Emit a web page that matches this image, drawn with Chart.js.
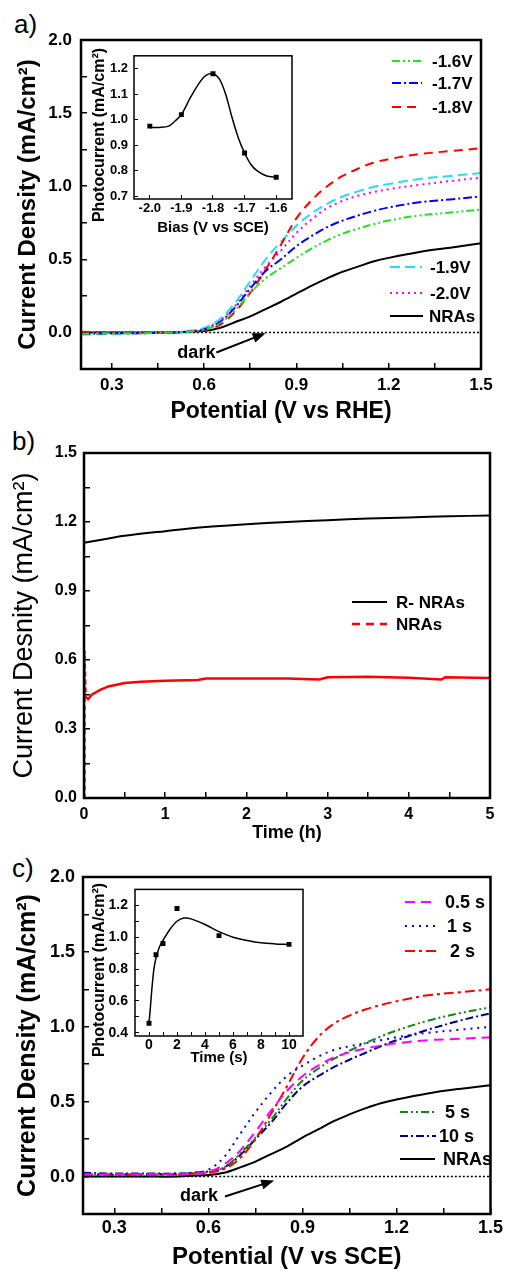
<!DOCTYPE html>
<html>
<head>
<meta charset="utf-8">
<script src="https://cdn.jsdelivr.net/npm/chart.js@4.4.1/dist/chart.umd.min.js"></script>
<style>
  body { margin: 0; background: #fff; width: 512px; height: 1272px; position: relative; overflow: hidden; font-family: "Liberation Sans", Arial, sans-serif; }
  canvas { position: absolute; }
  .tag { position: absolute; font-size: 26px; line-height: 26px; color: #000; }
</style>
</head>
<body>
<div class="tag" style="left:14px;top:11px">a)</div>
<div class="tag" style="left:12px;top:428px">b)</div>
<div class="tag" style="left:12px;top:855px">c)</div>
<canvas id="chartA" width="512" height="425" style="left:0;top:0"></canvas>
<canvas id="insetA" width="230" height="205" style="left:80px;top:38px"></canvas>
<canvas id="chartB" width="512" height="425" style="left:0;top:425px"></canvas>
<canvas id="chartC" width="512" height="422" style="left:0;top:850px"></canvas>
<canvas id="insetC" width="235" height="200" style="left:80px;top:870px"></canvas>
<script>
// ---- panel a: LSV curves, different reduction bias ----
const potA = [0.2, 0.3, 0.4, 0.5, 0.55, 0.6, 0.65, 0.7, 0.75, 0.8, 0.85, 0.9, 0.95, 1.0, 1.05, 1.1, 1.15, 1.2, 1.3, 1.4, 1.5];
const a16 = [-0.01, -0.005, -0.005, 0, 0.005, 0.02, 0.06, 0.15, 0.27, 0.37, 0.44, 0.51, 0.575, 0.63, 0.675, 0.71, 0.74, 0.765, 0.80, 0.82, 0.84];
const a17 = [-0.01, -0.005, -0.005, 0, 0.005, 0.02, 0.07, 0.17, 0.30, 0.42, 0.50, 0.59, 0.66, 0.72, 0.765, 0.80, 0.83, 0.855, 0.89, 0.91, 0.93];
const a18 = [0.005, 0, 0, 0, 0.005, 0.015, 0.05, 0.14, 0.27, 0.43, 0.60, 0.78, 0.905, 1.0, 1.07, 1.12, 1.16, 1.185, 1.22, 1.24, 1.26];
const a19 = [-0.015, -0.01, -0.005, 0, 0.01, 0.03, 0.09, 0.20, 0.35, 0.50, 0.62, 0.73, 0.815, 0.88, 0.93, 0.965, 0.995, 1.015, 1.05, 1.07, 1.09];
const a20 = [-0.01, -0.005, -0.005, 0, 0.01, 0.025, 0.08, 0.18, 0.32, 0.45, 0.56, 0.68, 0.775, 0.85, 0.90, 0.935, 0.96, 0.98, 1.01, 1.035, 1.06];
const aNRA = [0, 0, 0, 0, 0.005, 0.01, 0.03, 0.07, 0.11, 0.16, 0.21, 0.265, 0.32, 0.37, 0.415, 0.45, 0.485, 0.51, 0.55, 0.58, 0.61];
const darkX = [0.2, 1.5];
const darkY = [0, 0];

// inset a: photocurrent vs bias
const biasPts = [-2.0, -1.9, -1.8, -1.7, -1.6];
const photoPts = [0.975, 1.02, 1.18, 0.87, 0.775];
const biasFit = [-2.0, -1.97, -1.94, -1.92, -1.9, -1.87, -1.84, -1.82, -1.8, -1.78, -1.76, -1.74, -1.72, -1.7, -1.68, -1.66, -1.63, -1.6];
const photoFit = [0.97, 0.97, 0.975, 0.995, 1.02, 1.09, 1.15, 1.175, 1.18, 1.16, 1.10, 1.01, 0.93, 0.87, 0.825, 0.80, 0.78, 0.775];

// ---- panel b: stability ----
const timeR = [0, 0.25, 0.5, 1, 1.5, 2, 2.5, 3, 3.5, 4, 4.5, 5];
const densR = [1.11, 1.125, 1.14, 1.16, 1.178, 1.19, 1.2, 1.208, 1.215, 1.22, 1.225, 1.228];
const timeN = [0, 0.005, 0.02, 0.05, 0.1, 0.2, 0.3, 0.5, 0.7, 1.0, 1.4, 1.5, 2.0, 2.5, 2.9, 3.0, 3.5, 4.0, 4.4, 4.45, 5.0];
const densN = [0, 0.64, 0.44, 0.43, 0.45, 0.47, 0.485, 0.5, 0.505, 0.51, 0.513, 0.52, 0.52, 0.52, 0.515, 0.525, 0.527, 0.523, 0.515, 0.525, 0.522];

// ---- panel c: LSV curves, different reduction time ----
const potC = [0.2, 0.3, 0.4, 0.5, 0.55, 0.6, 0.65, 0.7, 0.75, 0.8, 0.85, 0.9, 0.95, 1.0, 1.05, 1.1, 1.15, 1.2, 1.3, 1.4, 1.5];
const c05 = [0.015, 0.015, 0.015, 0.015, 0.02, 0.03, 0.08, 0.17, 0.30, 0.44, 0.57, 0.67, 0.74, 0.795, 0.83, 0.855, 0.875, 0.89, 0.91, 0.92, 0.93];
const c1 = [0.015, 0.015, 0.015, 0.02, 0.025, 0.045, 0.13, 0.28, 0.43, 0.56, 0.67, 0.74, 0.80, 0.845, 0.87, 0.89, 0.91, 0.93, 0.96, 0.98, 1.00];
const c2 = [0.01, 0.01, 0.01, 0.015, 0.02, 0.025, 0.05, 0.12, 0.25, 0.42, 0.60, 0.79, 0.93, 1.02, 1.075, 1.115, 1.145, 1.17, 1.21, 1.23, 1.25];
const c5 = [0.015, 0.015, 0.015, 0.015, 0.02, 0.03, 0.06, 0.15, 0.26, 0.38, 0.52, 0.64, 0.72, 0.785, 0.84, 0.89, 0.935, 0.975, 1.04, 1.09, 1.13];
const c10 = [0.025, 0.02, 0.02, 0.02, 0.025, 0.035, 0.06, 0.14, 0.25, 0.36, 0.49, 0.60, 0.67, 0.73, 0.78, 0.825, 0.87, 0.91, 0.98, 1.04, 1.09];
const cNRA = [0, 0, 0, 0, 0.005, 0.01, 0.025, 0.06, 0.10, 0.15, 0.20, 0.26, 0.315, 0.37, 0.415, 0.455, 0.49, 0.515, 0.555, 0.585, 0.61];

// inset c: photocurrent vs time
const timePts = [0, 0.5, 1, 2, 5, 10];
const photoCPts = [0.46, 0.89, 0.96, 1.18, 1.01, 0.955];
const timeFit = [0, 0.1, 0.2, 0.35, 0.5, 0.75, 1, 1.5, 2, 2.5, 3, 4, 5, 6, 7, 8, 9, 10];
const photoCFit = [0.46, 0.56, 0.67, 0.80, 0.87, 0.94, 0.98, 1.05, 1.10, 1.12, 1.115, 1.08, 1.035, 1.0, 0.98, 0.965, 0.958, 0.955];

// tick positions and which ones get a label
const potTicks = [0.3, 0.45, 0.6, 0.75, 0.9, 1.05, 1.2, 1.35, 1.5];
const potLabels = [0.3, 0.6, 0.9, 1.2, 1.5];
const jTicks = [0, 0.25, 0.5, 0.75, 1.0, 1.25, 1.5, 1.75, 2.0];
const jLabels = [0, 0.5, 1.0, 1.5, 2.0];
const hourTicks = [0, 0.5, 1, 1.5, 2, 2.5, 3, 3.5, 4, 4.5, 5];
const hourLabels = [0, 1, 2, 3, 4, 5];
const jbTicks = [0, 0.15, 0.3, 0.45, 0.6, 0.75, 0.9, 1.05, 1.2, 1.35, 1.5];
const jbLabels = [0, 0.3, 0.6, 0.9, 1.2, 1.5];
const biasTicks = [-2.0, -1.9, -1.8, -1.7, -1.6];
const photoTicks = [0.7, 0.8, 0.9, 1.0, 1.1, 1.2];
const secTicks = [0, 1, 2, 3, 4, 5, 6, 7, 8, 9, 10];
const secLabels = [0, 2, 4, 6, 8, 10];
const photoCTicks = [0.4, 0.5, 0.6, 0.7, 0.8, 0.9, 1.0, 1.1, 1.2];
const photoCLabels = [0.4, 0.6, 0.8, 1.0, 1.2];

const FONT = '"Liberation Sans", Arial, Helvetica, sans-serif';
Chart.defaults.font.family = FONT;
Chart.defaults.color = '#000';

function pts(xs, ys) {
  return xs.map((x, i) => ({ x: x, y: ys[i] }));
}

function curve(label, xs, ys, color, dash, width) {
  return {
    label: label,
    data: pts(xs, ys),
    borderColor: color,
    backgroundColor: color,
    borderDash: dash,
    borderWidth: width || 2,
    pointRadius: 0,
    tension: 0.35,
    fill: false
  };
}

function squares(xs, ys) {
  return {
    label: 'points',
    data: pts(xs, ys),
    showLine: false,
    pointStyle: 'rect',
    pointRadius: 3.5,
    pointBackgroundColor: '#000',
    pointBorderColor: '#000',
    borderWidth: 0
  };
}

function isIn(list, v) {
  return list.some((m) => Math.abs(m - v) < 1e-6);
}

function makeAxis(o) {
  return {
    type: 'linear',
    min: o.min,
    max: o.max,
    afterBuildTicks: (s) => { s.ticks = o.ticks.map((v) => ({ value: v })); },
    afterFit: (s) => {
      if (o.width) s.width = o.width;
      if (o.height) s.height = o.height;
    },
    grid: { drawOnChartArea: false, drawTicks: true, tickLength: -(o.tickLen || 6), color: '#000', lineWidth: o.tickWidth || 1.5 },
    border: { display: false },
    ticks: {
      autoSkip: false,
      maxRotation: 0,
      padding: o.pad,
      font: { size: o.size, weight: 'bold' },
      callback: (v) => (isIn(o.labels || o.ticks, v) ? v.toFixed(o.digits) : '')
    },
    title: {
      display: !!o.title,
      text: o.title,
      font: { size: o.titleSize, weight: o.titleWeight || 'bold' },
      padding: o.titlePad
    }
  };
}

function frame(width) {
  return {
    id: 'frame',
    afterDraw(chart) {
      const { ctx, chartArea: a } = chart;
      ctx.save();
      ctx.strokeStyle = '#000';
      ctx.lineWidth = width;
      ctx.strokeRect(a.left, a.top, a.right - a.left, a.bottom - a.top);
      ctx.restore();
    }
  };
}

function lineLegend(entries, size) {
  return {
    id: 'lineLegend',
    afterDraw(chart) {
      const ctx = chart.ctx;
      ctx.save();
      ctx.font = `bold ${size}px ${FONT}`;
      ctx.textBaseline = 'middle';
      ctx.textAlign = 'left';
      ctx.fillStyle = '#000';
      entries.forEach((e) => {
        const ds = chart.data.datasets[e.index];
        ctx.strokeStyle = ds.borderColor;
        ctx.lineWidth = ds.borderWidth;
        ctx.setLineDash(e.dash || ds.borderDash || []);
        ctx.beginPath();
        ctx.moveTo(e.x1, e.y);
        ctx.lineTo(e.x2, e.y);
        ctx.stroke();
        ctx.fillText(ds.label, e.tx, e.y + 1);
      });
      ctx.restore();
    }
  };
}

function darkNote(note) {
  return {
    id: 'darkNote',
    afterDatasetsDraw(chart) {
      const { ctx, scales: { x, y } } = chart;
      const x1 = x.getPixelForValue(note.from[0]);
      const y1 = y.getPixelForValue(note.from[1]);
      const x2 = x.getPixelForValue(note.to[0]);
      const y2 = y.getPixelForValue(note.to[1]);
      const ang = Math.atan2(y2 - y1, x2 - x1);
      const c = Math.cos(ang), s = Math.sin(ang);
      ctx.save();
      ctx.strokeStyle = '#000';
      ctx.fillStyle = '#000';
      ctx.lineWidth = 2;
      ctx.beginPath();
      ctx.moveTo(x1, y1);
      ctx.lineTo(x2 - 10 * c, y2 - 10 * s);
      ctx.stroke();
      ctx.beginPath();
      ctx.moveTo(x2, y2);
      ctx.lineTo(x2 - 13 * c + 5 * s, y2 - 13 * s - 5 * c);
      ctx.lineTo(x2 - 13 * c - 5 * s, y2 - 13 * s + 5 * c);
      ctx.closePath();
      ctx.fill();
      ctx.font = `bold ${note.size}px ${FONT}`;
      ctx.textAlign = 'center';
      ctx.textBaseline = 'middle';
      ctx.fillText('dark', x.getPixelForValue(note.text[0]), y.getPixelForValue(note.text[1]));
      ctx.restore();
    }
  };
}

// inset y titles are longer than the inset box, so draw them directly
function sideTitle(text, x, y, size) {
  return {
    id: 'sideTitle',
    afterDraw(chart) {
      const ctx = chart.ctx;
      ctx.save();
      ctx.translate(x, y);
      ctx.rotate(-Math.PI / 2);
      ctx.font = `bold ${size}px ${FONT}`;
      ctx.textAlign = 'center';
      ctx.textBaseline = 'middle';
      ctx.fillStyle = '#000';
      ctx.fillText(text, 0, 0);
      ctx.restore();
    }
  };
}

const baseOptions = {
  responsive: false,
  animation: false,
  devicePixelRatio: 1,
  plugins: { legend: { display: false }, tooltip: { enabled: false } }
};

// ---------- panel a ----------
new Chart(document.getElementById('chartA'), {
  type: 'line',
  data: {
    datasets: [
      curve('-1.6V', potA, a16, '#22e022', [8, 3, 2, 3, 2, 3]),
      curve('-1.7V', potA, a17, '#0000ff', [9, 3, 2, 3]),
      curve('-1.8V', potA, a18, '#ff0000', [9, 6]),
      curve('-1.9V', potA, a19, '#22e0f0', [10, 5]),
      curve('-2.0V', potA, a20, '#ff00ff', [2, 4]),
      curve('NRAs', potA, aNRA, '#000000', []),
      curve('dark', darkX, darkY, '#000000', [2, 2], 1.5)
    ]
  },
  options: {
    ...baseOptions,
    layout: { padding: { top: 40, right: 31, left: 0, bottom: 0 } },
    scales: {
      x: makeAxis({ min: 0.2, max: 1.5, ticks: potTicks, labels: potLabels, digits: 1, size: 17, pad: 12, height: 56,
        title: 'Potential (V vs RHE)', titleSize: 23, titlePad: { bottom: 0 } }),
      y: makeAxis({ min: -0.25, max: 2.0, ticks: jTicks, labels: jLabels, digits: 1, size: 17, pad: 15, width: 81,
        title: 'Current Density (mA/cm²)', titleSize: 24, titlePad: { top: 14 } })
    }
  },
  plugins: [
    frame(2.5),
    lineLegend([
      { index: 0, x1: 392, x2: 422, tx: 432, y: 61 },
      { index: 1, x1: 392, x2: 422, tx: 432, y: 83 },
      { index: 2, x1: 392, x2: 422, tx: 432, y: 107 },
      { index: 3, x1: 390, x2: 422, tx: 430, y: 267 },
      { index: 4, x1: 390, x2: 422, tx: 430, y: 293 },
      { index: 5, x1: 390, x2: 423, tx: 429, y: 316 }
    ], 17),
    darkNote({ from: [0.64, -0.137], to: [0.8, -0.005], text: [0.575, -0.142], size: 18 })
  ]
});

new Chart(document.getElementById('insetA'), {
  type: 'line',
  data: {
    datasets: [
      squares(biasPts, photoPts),
      curve('fit', biasFit, photoFit, '#000000', [], 1.5)
    ]
  },
  options: {
    ...baseOptions,
    layout: { padding: { top: 12, right: 18, left: 0, bottom: 0 } },
    scales: {
      x: makeAxis({ min: -2.05, max: -1.55, ticks: biasTicks, digits: 1, size: 13, pad: 6, height: 44, tickLen: 4, tickWidth: 1,
        title: 'Bias (V vs SCE)', titleSize: 15, titlePad: { bottom: 6 } }),
      y: makeAxis({ min: 0.69, max: 1.25, ticks: photoTicks, digits: 1, size: 13, pad: 10, width: 54, tickLen: 4, tickWidth: 1 })
    }
  },
  plugins: [frame(1.5), sideTitle('Photocurrent (mA/cm²)', 20, 97, 16)]
});

// ---------- panel b ----------
const nraDash = (ctx) => (ctx.p0DataIndex < 2 ? [5, 3] : undefined);
new Chart(document.getElementById('chartB'), {
  type: 'line',
  data: {
    datasets: [
      curve('R- NRAs', timeR, densR, '#000000', [], 2),
      {
        ...curve('NRAs', timeN, densN, '#ff0000', [], 2.5),
        tension: 0,
        segment: { borderDash: nraDash }
      }
    ]
  },
  options: {
    ...baseOptions,
    layout: { padding: { top: 28, right: 22, left: 0, bottom: 0 } },
    scales: {
      x: makeAxis({ min: 0, max: 5, ticks: hourTicks, labels: hourLabels, digits: 0, size: 16, pad: 13, height: 52,
        title: 'Time (h)', titleSize: 18, titlePad: { bottom: 6 } }),
      y: makeAxis({ min: 0, max: 1.5, ticks: jbTicks, labels: jbLabels, digits: 1, size: 16, pad: 13, width: 84,
        title: 'Current Desnity (mA/cm²)', titleSize: 27, titleWeight: 'normal', titlePad: { top: 8 } })
    }
  },
  plugins: [
    frame(2.5),
    lineLegend([
      { index: 0, x1: 352, x2: 387, tx: 396, y: 177 },
      { index: 1, x1: 352, x2: 387, tx: 396, y: 199, dash: [8, 6] }
    ], 17)
  ]
});

// ---------- panel c ----------
new Chart(document.getElementById('chartC'), {
  type: 'line',
  data: {
    datasets: [
      curve('0.5 s', potC, c05, '#ff00ff', [10, 6]),
      curve('1 s', potC, c1, '#0000ff', [2, 5]),
      curve('2 s', potC, c2, '#ff0000', [10, 4, 3, 4]),
      curve('5 s', potC, c5, '#118811', [8, 3, 2, 3, 2, 3]),
      curve('10 s', potC, c10, '#000088', [8, 3, 2, 3]),
      curve('NRAs', potC, cNRA, '#000000', []),
      curve('dark', darkX, darkY, '#000000', [2, 2], 1.5)
    ]
  },
  options: {
    ...baseOptions,
    layout: { padding: { top: 27, right: 13, left: 0, bottom: 0 } },
    scales: {
      x: makeAxis({ min: 0.2, max: 1.5, ticks: potTicks, labels: potLabels, digits: 1, size: 18, pad: 9, height: 58,
        title: 'Potential (V vs SCE)', titleSize: 24, titlePad: { bottom: 0 } }),
      y: makeAxis({ min: -0.25, max: 2.0, ticks: jTicks, labels: jLabels, digits: 1, size: 18, pad: 14, width: 83,
        title: 'Current Density (mA/cm²)', titleSize: 25, titlePad: { top: 13 } })
    }
  },
  plugins: [
    frame(2.5),
    lineLegend([
      { index: 0, x1: 405, x2: 436, tx: 445, y: 52 },
      { index: 1, x1: 405, x2: 436, tx: 447, y: 76 },
      { index: 2, x1: 405, x2: 436, tx: 450, y: 101 },
      { index: 3, x1: 400, x2: 436, tx: 445, y: 262 },
      { index: 4, x1: 400, x2: 436, tx: 439, y: 286 },
      { index: 5, x1: 400, x2: 435, tx: 443, y: 309 }
    ], 18),
    darkNote({ from: [0.653, -0.133], to: [0.81, -0.027], text: [0.57, -0.127], size: 18 })
  ]
});

new Chart(document.getElementById('insetC'), {
  type: 'line',
  data: {
    datasets: [
      squares(timePts, photoCPts),
      curve('fit', timeFit, photoCFit, '#000000', [], 1.5)
    ]
  },
  options: {
    ...baseOptions,
    layout: { padding: { top: 19, right: 12, left: 0, bottom: 0 } },
    scales: {
      x: makeAxis({ min: -1, max: 11, ticks: secTicks, labels: secLabels, digits: 0, size: 14, pad: 5, height: 34, tickLen: 4, tickWidth: 1,
        title: 'Time (s)', titleSize: 15, titlePad: { bottom: 3 } }),
      y: makeAxis({ min: 0.38, max: 1.3, ticks: photoCTicks, labels: photoCLabels, digits: 1, size: 14, pad: 11, width: 55, tickLen: 4, tickWidth: 1 })
    }
  },
  plugins: [frame(1.5), sideTitle('Photocurrent (mA/cm²)', 20, 100, 16)]
});
</script>
</body>
</html>
